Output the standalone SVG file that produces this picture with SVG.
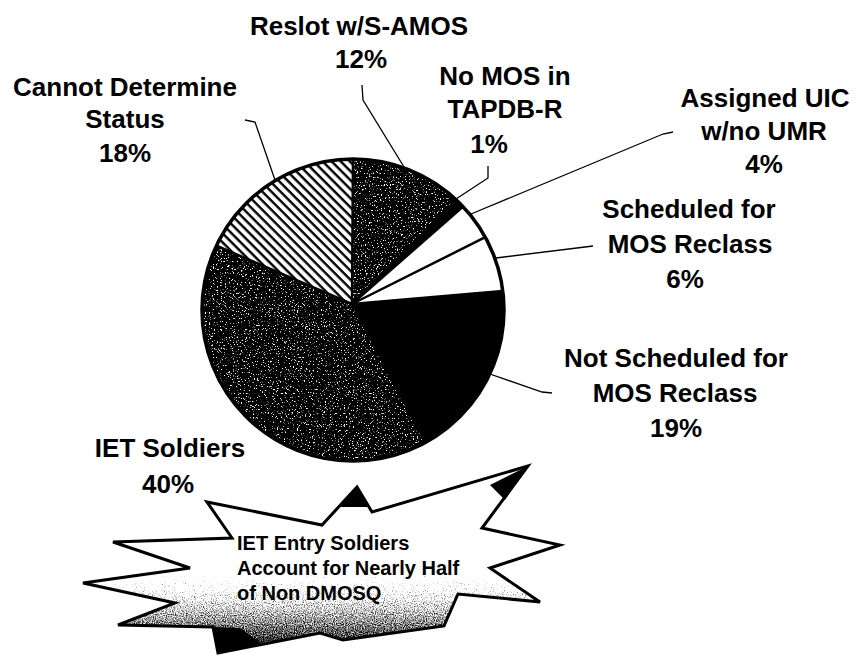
<svg xmlns="http://www.w3.org/2000/svg" width="856" height="656" viewBox="0 0 856 656">
  <style>
    .lbl { font-family: "Liberation Sans", Arial, sans-serif; font-weight: bold; font-size: 26px; fill: #000; text-anchor: middle; }
    .note { font-family: "Liberation Sans", Arial, sans-serif; font-weight: bold; font-size: 20px; fill: #000; }
    .lead { fill: none; stroke: #000; stroke-width: 1.3; }
    .sep { stroke: #000; stroke-width: 2.5; stroke-linecap: round; }
  </style>
  <defs>
    <filter id="speck" x="0" y="0" width="1" height="1" color-interpolation-filters="sRGB">
      <feTurbulence type="fractalNoise" baseFrequency="0.75" numOctaves="2" seed="7" result="n"/>
      <feColorMatrix in="n" type="matrix" values="0 0 0 0 1  0 0 0 0 1  0 0 0 0 1  9 0 0 0 -5.5" result="w"/>
      <feComposite in="w" in2="SourceAlpha" operator="in" result="wi"/>
      <feMerge><feMergeNode in="SourceGraphic"/><feMergeNode in="wi"/></feMerge>
    </filter>
    <filter id="grain" x="0" y="0" width="1" height="1" color-interpolation-filters="sRGB">
      <feTurbulence type="fractalNoise" baseFrequency="0.9" numOctaves="2" seed="3" result="n"/>
      <feColorMatrix in="n" type="matrix" values="0 0 0 0 0  0 0 0 0 0  0 0 0 0 0  1 0 0 0 0" result="na"/>
      <feComposite in="SourceGraphic" in2="na" operator="arithmetic" k1="0" k2="3" k3="2" k4="-2.4"/>
    </filter>
    <pattern id="hatch" patternUnits="userSpaceOnUse" width="6.4" height="6.4" patternTransform="rotate(45)">
      <rect width="6.4" height="6.4" fill="#fff"/>
      <rect width="6.4" height="2.4" fill="#000"/>
    </pattern>
    <linearGradient id="shade" gradientUnits="userSpaceOnUse" x1="0" y1="530" x2="0" y2="650">
      <stop offset="0" stop-color="#000" stop-opacity="0"/>
      <stop offset="1" stop-color="#000" stop-opacity="0.8"/>
    </linearGradient>
  </defs>

  <g id="slice-reslot">
    <path d="M352,304 L353,159 A151,151 0 0 1 456.4,199.9 Z" fill="#000" filter="url(#speck)"/>
    <text class="lbl" x="359" y="35">Reslot w/S-AMOS</text>
    <text class="lbl" x="361" y="68">12%</text>
  </g>
  <g id="slice-nomos">
    <path d="M352,304 L456.4,199.9 A151,151 0 0 1 463.1,206.6 Z" fill="#000"/>
    <text class="lbl" x="505" y="85">No MOS in</text>
    <text class="lbl" x="505" y="118">TAPDB-R</text>
    <text class="lbl" x="489" y="153">1%</text>
  </g>
  <g id="slice-assigned">
    <path d="M352,304 L463.1,206.6 A151,151 0 0 1 485.3,237.2 Z" fill="#fff"/>
    <text class="lbl" x="765" y="107">Assigned UIC</text>
    <text class="lbl" x="764" y="140">w/no UMR</text>
    <text class="lbl" x="764" y="173">4%</text>
  </g>
  <g id="slice-scheduled">
    <path d="M352,304 L485.3,237.2 A151,151 0 0 1 502.8,291.1 Z" fill="#fff"/>
    <text class="lbl" x="689" y="218">Scheduled for</text>
    <text class="lbl" x="690" y="253">MOS Reclass</text>
    <text class="lbl" x="685" y="288">6%</text>
  </g>
  <g id="slice-notscheduled">
    <path d="M352,304 L502.8,291.1 A151,151 0 0 1 425.8,442.3 Z" fill="#000"/>
    <text class="lbl" x="676" y="367">Not Scheduled for</text>
    <text class="lbl" x="675" y="402">MOS Reclass</text>
    <text class="lbl" x="676" y="437">19%</text>
  </g>
  <g id="slice-iet">
    <path d="M352,304 L425.8,442.3 A151,151 0 0 1 216.4,245.7 Z" fill="#000" filter="url(#speck)"/>
    <text class="lbl" x="170" y="457">IET Soldiers</text>
    <text class="lbl" x="168" y="493">40%</text>
  </g>
  <g id="slice-cannot">
    <path d="M352,304 L216.4,245.7 A151,151 0 0 1 353,159 Z" fill="url(#hatch)"/>
    <text class="lbl" x="125" y="96">Cannot Determine</text>
    <text class="lbl" x="125" y="128">Status</text>
    <text class="lbl" x="125" y="162">18%</text>
  </g>

  <g id="pie-outline">
    <line class="sep" x1="352" y1="304" x2="353" y2="159"/>
    <line class="sep" x1="352" y1="304" x2="456.4" y2="199.9"/>
    <line class="sep" x1="352" y1="304" x2="463.1" y2="206.6"/>
    <line class="sep" x1="352" y1="304" x2="485.3" y2="237.2"/>
    <line class="sep" x1="352" y1="304" x2="502.8" y2="291.1"/>
    <line class="sep" x1="352" y1="304" x2="425.8" y2="442.3"/>
    <line class="sep" x1="352" y1="304" x2="216.4" y2="245.7"/>
    <circle cx="353" cy="310" r="151" fill="none" stroke="#000" stroke-width="3.5"/>
  </g>

  <g id="connectors">
    <path class="lead" d="M245,120 L255,122 L275,180"/>
    <path class="lead" d="M362,85 L363,100 L404,167"/>
    <path class="lead" d="M488,166 L488,178 L456,199"/>
    <path class="lead" d="M673,132 L663,134 L471,214"/>
    <path class="lead" d="M593,246 L585,247 L496,258"/>
    <path class="lead" d="M552,393 L542,392 L487,373"/>
  </g>

  <g id="callout">
    <polygon points="207,502 322,525 357,487 372,512 528,466 482,528 560,545 490,568 540,602 458,594 444,626 343,640 320,633 218,653 213,627 118,625 175,603 83,583 190,568 113,542 232,538" fill="#fff"/>
    <polygon points="207,502 322,525 357,487 372,512 528,466 482,528 560,545 490,568 540,602 458,594 444,626 343,640 320,633 218,653 213,627 118,625 175,603 83,583 190,568 113,542 232,538" fill="url(#shade)" filter="url(#grain)"/>
    <polygon points="338,507 357,487 368,507" fill="#000"/>
    <polygon points="490,485 528,466 505,500" fill="#000"/>
    <polygon points="213,627 218,653 262,644 240,628" fill="#000"/>
    <polygon points="207,502 322,525 357,487 372,512 528,466 482,528 560,545 490,568 540,602 458,594 444,626 343,640 320,633 218,653 213,627 118,625 175,603 83,583 190,568 113,542 232,538" fill="none" stroke="#000" stroke-width="3" stroke-linejoin="miter"/>
    <text class="note" x="237" y="550">IET Entry Soldiers</text>
    <text class="note" x="237" y="575">Account for Nearly Half</text>
    <text class="note" x="237" y="600">of Non DMOSQ</text>
  </g>
</svg>
